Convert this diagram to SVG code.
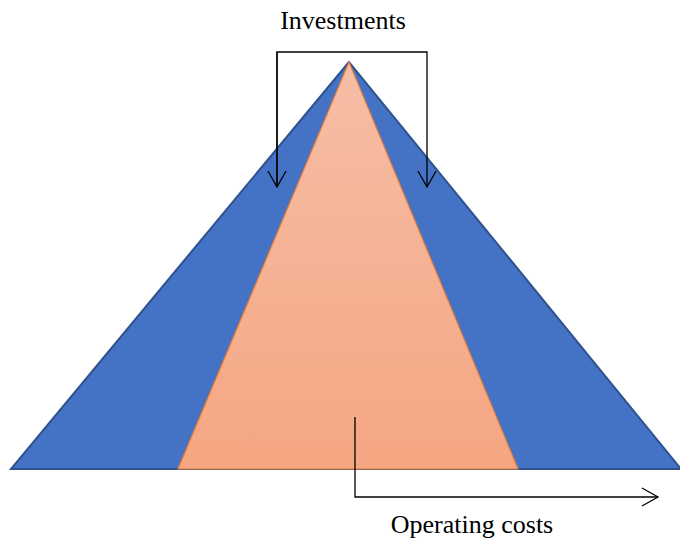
<svg xmlns="http://www.w3.org/2000/svg" width="680" height="540" viewBox="0 0 680 540">
<defs>
<linearGradient id="og" x1="0" y1="0" x2="0" y2="1">
<stop offset="0" stop-color="#F6BEA6"/>
<stop offset="1" stop-color="#F5A682"/>
</linearGradient>
<marker id="arr" viewBox="0 0 20 20" refX="18" refY="10" markerWidth="20" markerHeight="20" markerUnits="userSpaceOnUse" orient="auto">
<path d="M2,1 L18,10 L2,19" fill="none" stroke="#000" stroke-width="1.3"/>
</marker>
<style>
.lbl{font-family:'Liberation Serif','Times New Roman',Times,serif;font-size:26px;fill:#000;text-anchor:middle}
.con{fill:none;stroke:#000;stroke-width:1.3}
</style>
</defs>
<rect width="680" height="540" fill="#fff"/>
<g id="outer-triangle">
<polygon points="349,62 11,469 681,469" fill="#4472C4" stroke="#2F528F" stroke-width="2"/>
</g>
<g id="inner-triangle">
<polygon points="349,62 178,469 518,469" fill="url(#og)" stroke="#ED7D31" stroke-width="1.2"/>
</g>
<g id="connectors">
<path class="con" d="M277,187 V52 H427 V187" marker-end="url(#arr)"/>
<path class="con" d="M277,52 V187" marker-end="url(#arr)"/>
<path class="con" d="M355,417 V497 H658" marker-end="url(#arr)"/>
</g>
<g id="label-investments">
<text class="lbl" x="343" y="29" font-family="Liberation Serif, serif">Investments</text>
</g>
<g id="label-operating">
<text class="lbl" x="472" y="533" font-family="Liberation Serif, serif">Operating costs</text>
</g>
</svg>
